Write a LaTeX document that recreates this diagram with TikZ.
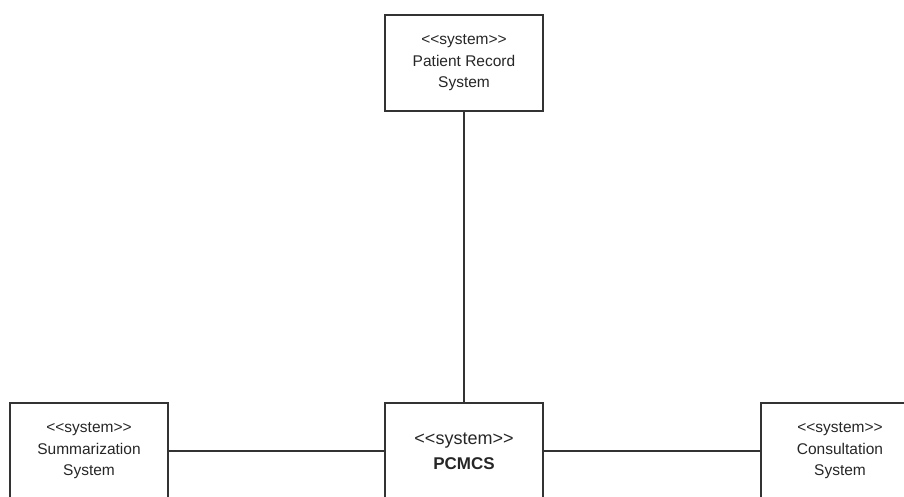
\documentclass[tikz,border=0pt]{standalone}
\usepackage{fontspec}
\setmainfont{Liberation Sans}
\newcommand{\stereo}{<{}<system>{}>}
\begin{document}
\begin{tikzpicture}[x=1pt,y=-1pt,
  sysbox/.style={draw=black!80, line width=1.3pt, rectangle, minimum width=158pt, minimum height=96pt,
     align=center, inner sep=0pt, font=\fontsize{15.5}{21.5}\selectfont, text=black!85},
  mainbox/.style={sysbox, font=\fontsize{18}{25}\selectfont},
  link/.style={draw=black!80, line width=1.3pt}]
\useasboundingbox (0,0) rectangle (904,496);
\node[sysbox] (prs) at (464,63) {\stereo\\Patient Record\\System};
\node[sysbox] (sum) at (89,451) {\stereo\\Summarization\\System};
\node[mainbox] (pcm) at (464,451) {\stereo\\{\fontsize{17}{25}\selectfont\bfseries PCMCS}};
\node[sysbox] (con) at (840,451) {\stereo\\Consultation\\System};
\draw[link] (prs) -- (pcm);
\draw[link] (sum) -- (pcm);
\draw[link] (pcm) -- (con);
\end{tikzpicture}
\end{document}
